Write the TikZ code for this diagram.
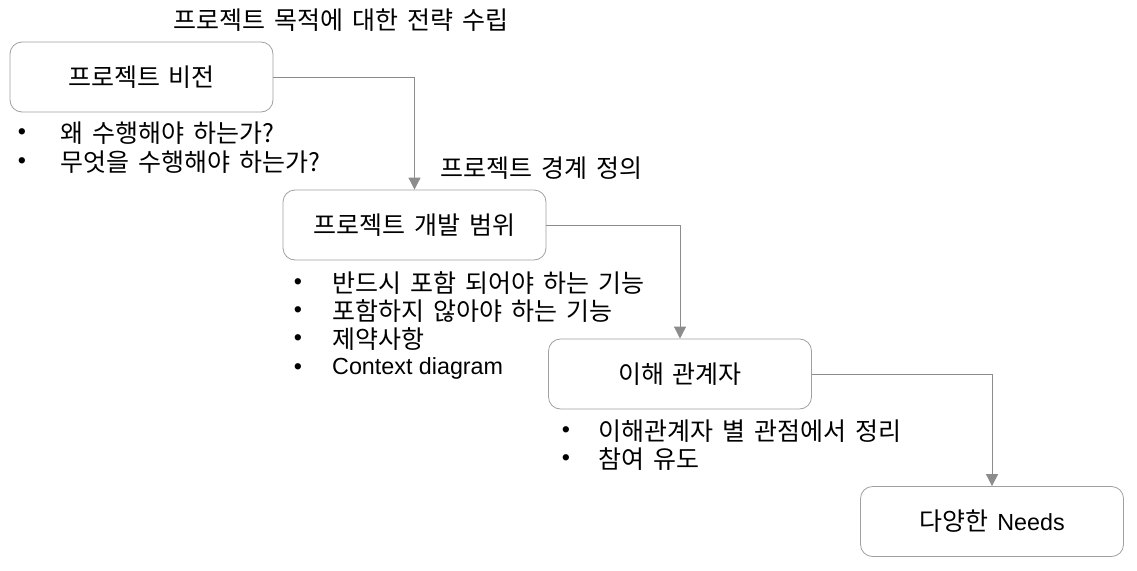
\documentclass[tikz,border=0pt]{standalone}
\usepackage{fontspec}
\setmainfont{Liberation Sans}
\newfontfamily\kr[WordSpace=1.6]{Noto Sans CJK KR}
\usetikzlibrary{arrows.meta}
\definecolor{edgegray}{HTML}{A0A0A0}
\definecolor{arrgray}{HTML}{8C8C8C}
\newcommand{\krfont}{\kr\fontsize{25}{30}\selectfont}
\newcommand{\lafont}{\fontsize{23.3}{28}\selectfont}
\tikzset{
  stagebox/.style={draw=edgegray, line width=0.8pt, rounded corners=12pt, fill=white,
    minimum width=263pt, minimum height=70pt, inner sep=0pt, font=\krfont},
  flow/.style={draw=arrgray, line width=0.8pt, -{Triangle[length=12pt,width=12pt]}},
  txt/.style={inner sep=0pt, anchor=west, font=\krfont},
  bul/.style={inner sep=0pt, anchor=center, font=\lafont},
  captxt/.style={inner sep=0pt, font=\krfont}
}
\begin{document}
\begin{tikzpicture}[x=1pt,y=-1pt]
\useasboundingbox (0,0) rectangle (1137,570);
% boxes
\node[stagebox] (b1) at (141.5,77) {프로젝트 비전};
\node[stagebox] (b2) at (414.5,225) {프로젝트 개발 범위};
\node[stagebox] (b3) at (680,374) {이해 관계자};
\node[stagebox] (b4) at (992,521.5) {다양한 {\lafont\fontspec{Liberation Sans}Needs}};
% captions
\node[captxt] (c1) at (341,20) {프로젝트 목적에 대한 전략 수립};
\node[captxt] (c2) at (541.5,168) {프로젝트 경계 정의};
% connectors
\draw[flow] (b1.east) -| (b2.north);
\draw[flow] (b2.east) -| (b3.north);
\draw[flow] (b3.east) -| (b4.north);
% bullets box1
\node[bul] (p1a) at (22,134) {•};
\node[txt] (t1a) at (60,133) {왜 수행해야 하는가?};
\node[bul] (p1b) at (22,163) {•};
\node[txt] (t1b) at (60,162) {무엇을 수행해야 하는가?};
% bullets box2
\node[bul] (p2a) at (298,284) {•};
\node[txt] (t2a) at (332,283) {반드시 포함 되어야 하는 기능};
\node[bul] (p2b) at (298,312) {•};
\node[txt] (t2b) at (332,311) {포함하지 않아야 하는 기능};
\node[bul] (p2c) at (298,340) {•};
\node[txt] (t2c) at (332,339) {제약사항};
\node[bul] (p2d) at (298,369) {•};
\node[txt, font=\lafont] (t2d) at (332,368) {Context diagram};
% bullets box3
\node[bul] (p3a) at (566,432) {•};
\node[txt] (t3a) at (598,431) {이해관계자 별 관점에서 정리};
\node[bul] (p3b) at (566,460) {•};
\node[txt] (t3b) at (598,459) {참여 유도};
\end{tikzpicture}
\end{document}
